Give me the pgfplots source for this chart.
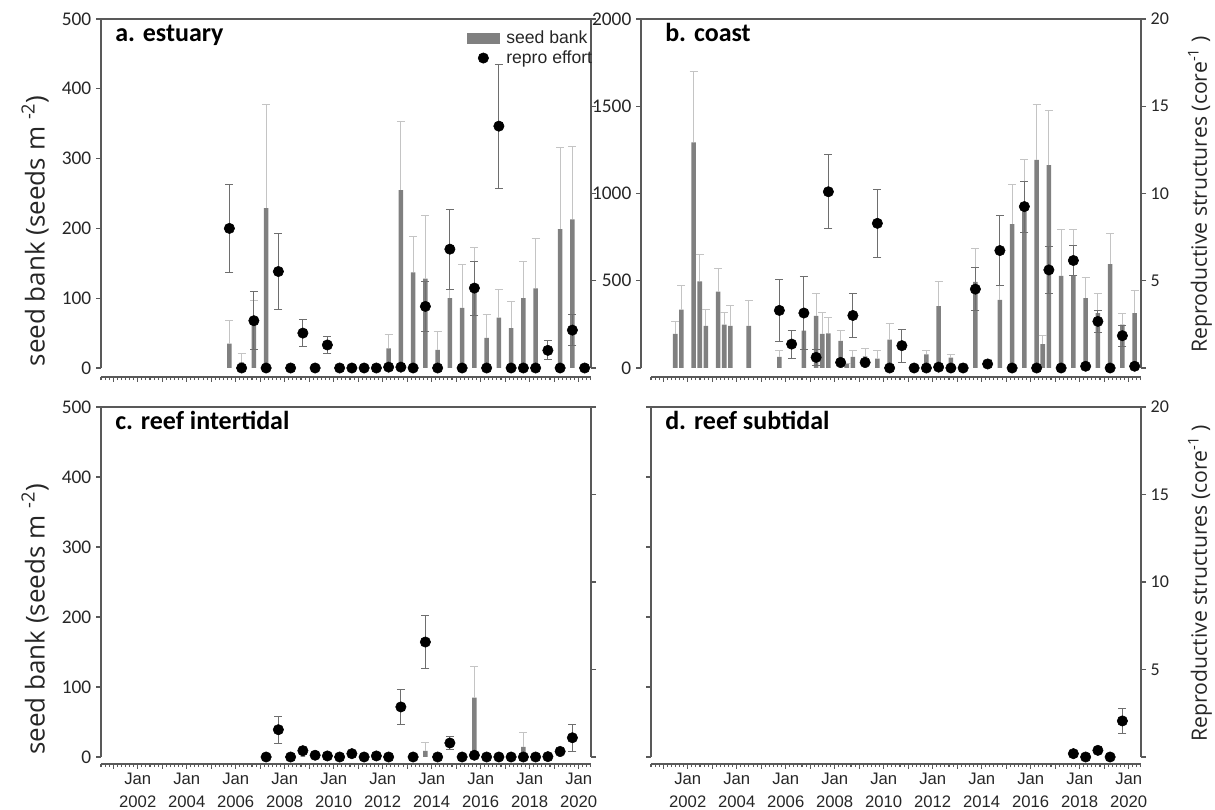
\documentclass[border=0pt]{standalone}
\usepackage{fontspec}
\usepackage{pgfplots}
\usepackage{pgfplotstable}
\pgfplotsset{compat=1.18}
\setmainfont{Liberation Sans}
\newfontfamily\carlito{Carlito}
\newfontfamily\osans{Open Sans}
\definecolor{axcol}{HTML}{595959}
\definecolor{barcol}{HTML}{808080}
\definecolor{barerr}{HTML}{C4C4C4}
\definecolor{doterr}{HTML}{6E6E6E}
\definecolor{txt}{HTML}{262626}

% ---------- panel a: estuary ----------
\pgfplotstableread{
x y e
2005.74 35 33
2006.24 8 13
2006.74 62 34
2007.24 229 148
2012.24 28 20
2012.74 255 98
2013.24 137 52
2013.74 128 90
2014.24 26 26
2014.74 100 13
2015.24 86 62
2015.74 110 62
2016.24 43 33
2016.74 72 41
2017.24 57 38
2017.74 100 53
2018.24 114 71
2019.24 199 117
2019.74 213 105
}\aBars
\pgfplotstableread{
x y e
2005.74 8.0 2.5
2006.24 0 0
2006.74 2.71 1.65
2007.24 0 0
2007.74 5.53 2.2
2008.24 0 0
2008.74 2.0 0.76
2009.24 0 0
2009.74 1.32 0.5
2010.24 0 0
2010.74 0 0
2011.24 0 0
2011.74 0 0
2012.24 0.05 0
2012.74 0.05 0
2013.24 0 0
2013.74 3.53 1.45
2014.24 0 0
2014.74 6.81 2.3
2015.24 0 0
2015.74 4.58 1.55
2016.24 0 0
2016.74 13.86 3.55
2017.24 0 0
2017.74 0 0
2018.24 0 0
2018.74 1.01 0.55
2019.24 0 0
2019.74 2.17 0.9
2020.24 0 0
}\aDots
% ---------- panel b: coast ----------
\pgfplotstableread{
x y e
2001.49 195 72
2001.74 334 137
2002.24 1293 408
2002.49 496 152
2002.74 242 92
2003.24 438 132
2003.49 248 72
2003.74 242 115
2004.49 242 145
2005.74 63 36
2006.74 214 310
2007.24 299 130
2007.49 195 125
2007.74 198 92
2008.24 156 59
2008.49 28 0
2008.74 63 36
2009.24 66 45
2009.74 53 46
2010.24 162 95
2011.74 78 24
2012.24 355 140
2012.74 60 20
2013.24 8 20
2013.74 493 191
2014.24 51 0
2014.74 391 80
2015.24 824 229
2015.74 905 287
2016.24 1192 320
2016.49 137 48
2016.74 1163 315
2017.24 528 267
2017.74 528 267
2018.24 400 118
2018.74 315 114
2019.24 595 177
2019.74 248 67
2020.24 315 129
}\bBars
\pgfplotstableread{
x y e
2005.74 3.30 1.76
2006.24 1.37 0.8
2006.74 3.15 2.1
2007.24 0.61 0.45
2007.74 10.1 2.12
2008.24 0.32 0.1
2008.74 3.01 1.25
2009.24 0.32 0.15
2009.74 8.29 1.96
2010.24 0 0
2010.74 1.28 0.95
2011.24 0 0
2011.74 0 0
2012.24 0.05 0
2012.74 0 0
2013.24 0 0
2013.74 4.52 1.24
2014.24 0.23 0
2014.74 6.73 2.03
2015.24 0 0
2015.74 9.25 1.46
2016.24 0 0
2016.74 5.62 1.37
2017.24 0 0
2017.74 6.16 0.85
2018.24 0.1 0
2018.74 2.67 0.65
2019.24 0 0
2019.74 1.85 0.6
2020.24 0.1 0
}\bDots
% ---------- panel c: reef intertidal ----------
\pgfplotstableread{
x y e
2008.74 3 12
2013.74 8.6 11.4
2015.74 84.8 45
2017.74 14.3 20
2019.24 2 8
}\cBars
\pgfplotstableread{
x y e
2007.24 0 0
2007.74 1.56 0.78
2008.24 0 0
2008.74 0.36 0.1
2009.24 0.1 0
2009.74 0.06 0
2010.24 0 0
2010.74 0.19 0
2011.24 0 0
2011.74 0.06 0
2012.24 0 0
2012.74 2.86 1.0
2013.24 0 0
2013.74 6.57 1.49
2014.24 0 0
2014.74 0.8 0.38
2015.24 0 0
2015.74 0.1 0
2016.24 0 0
2016.74 0 0
2017.24 0 0
2017.74 0 0
2018.24 0 0
2018.74 0.02 0
2019.24 0.32 0.1
2019.74 1.1 0.78
}\cDots
% ---------- panel d: reef subtidal ----------
\pgfplotstableread{
x y e
2017.74 0.19 0
2018.24 0 0
2018.74 0.38 0
2019.24 0 0
2019.74 2.06 0.7
}\dDots

\tikzset{ptitle/.style={anchor=base west, inner sep=0pt, xshift=10.5pt, yshift=-17.25pt,
    font=\carlito\bfseries\fontsize{19.5}{19.5}\selectfont, text=black}}
\pgfplotsset{
  base/.style={scale only axis, anchor=south west, xmin=2000.5, xmax=2020.5,
    /pgf/number format/assume math mode=true,
    /pgf/number format/set thousands separator={},
    axis line style={draw=axcol, line width=0.8pt},
    every tick/.style={draw=axcol, line width=0.8pt},
    tick align=outside, major tick length=3.75pt},
  seedax/.style={base, axis x line*=top, axis y line*=left, xtick=\empty, ymin=0,
    yticklabel style={font=\carlito\fontsize{14.5}{14.5}\selectfont, text=txt}},
  reproax/.style={base, axis x line=none, axis y line*=right, ymin=0, ymax=20,
    ytick={0,5,...,20}, clip=false,
    yticklabel style={font=\carlito\fontsize{13.5}{13.5}\selectfont, text=txt}},
  nolab/.style={yticklabels={{},{},{},{},{},{}}},
  xax/.style={base, axis y line=none, axis x line*=bottom, ymin=0, ymax=1, height=1pt,
    xtick={2001,...,2020}, minor xtick={2000.5,2000.66667,...,2020.6},
    major tick length=3.4pt, minor tick length=2.4pt,
    xticklabels={{},{},{},{},{},{},{},{},{},{},{},{},{},{},{},{},{},{},{},{}}},
  xlab/.style={xticklabels={,{Jan\\2002},,{Jan\\2004},,{Jan\\2006},,{Jan\\2008},,{Jan\\2010},,{Jan\\2012},,{Jan\\2014},,{Jan\\2016},,{Jan\\2018},,{Jan\\2020}},
    xticklabel style={align=center, text=txt, font=\fontsize{12.5}{17}\selectfont}},
  leftlab/.style={ylabel style={at={(axis description cs:-0.1347,0.393)}, anchor=center,
    font=\osans\fontsize{19.5}{19.5}\selectfont, text=txt}},
  rightlab/.style={ylabel style={at={(axis description cs:1.1204,0.497)}, anchor=center,
    font=\osans\fontsize{15.9}{15.9}\selectfont, text=txt}},
  barplot/.style={ybar, bar width=3.5pt, fill=barcol, draw=none, forget plot,
    error bars/.cd, y dir=plus, y explicit,
    error bar style={draw=barerr, line width=0.75pt},
    error mark options={rotate=90, draw=barerr, mark size=3pt, line width=0.75pt}},
  errplot/.style={draw=none, mark=none, forget plot,
    error bars/.cd, y dir=both, y explicit,
    error bar style={draw=doterr, line width=0.75pt},
    error mark options={rotate=90, draw=doterr, mark size=3pt, line width=0.75pt}},
  dotplot/.style={only marks, mark=*, mark size=3.9pt, draw=black, fill=black, forget plot}
}

\begin{document}
\begin{tikzpicture}
\useasboundingbox (0,0) rectangle (911.25pt,607.5pt);

% ================= panel a =================
\begin{axis}[seedax, at={(75.75pt,331.5pt)}, width=367.5pt, height=261.75pt,
  ymax=500, ytick={0,100,...,500}, leftlab, ylabel={seed bank (seeds m \textsuperscript{-2})}]
\addplot[barplot] table[x=x,y=y,y error=e]{\aBars};
\end{axis}
\begin{axis}[reproax, nolab, at={(75.75pt,331.5pt)}, width=367.5pt, height=261.75pt,
  legend style={at={(rel axis cs:1,1)}, anchor=north east, draw=none, fill=none,
    inner sep=0pt, row sep=0pt, column sep=3pt, yshift=-6.5pt, xshift=3pt,
    font=\fontsize{13.2}{13.2}\selectfont, text=txt},
  legend cell align=left]
\addlegendimage{legend image code/.code={\fill[barcol] (0pt,-3.75pt) rectangle (24pt,3.75pt);}}
\addlegendentry{seed bank}
\addlegendimage{legend image code/.code={\draw[black, fill=black, mark=*, mark size=3.9pt] plot coordinates {(12pt,0pt)};}}
\addlegendentry{repro effort}
\addplot[errplot] table[x=x,y=y,y error=e]{\aDots};
\addplot[dotplot] table[x=x,y=y]{\aDots};
\node[ptitle] at (rel axis cs:0,1) {a. estuary};
\end{axis}
\begin{axis}[xax, at={(75.75pt,324.75pt)}, width=367.5pt]
\end{axis}

% ================= panel b =================
\begin{axis}[seedax, at={(480.75pt,331.5pt)}, width=375pt, height=261.75pt,
  xmin=2000.0918, ymax=2000, ytick={0,500,...,2000}]
\addplot[barplot] table[x=x,y=y,y error=e]{\bBars};
\end{axis}
\begin{axis}[reproax, at={(488.25pt,331.5pt)}, width=367.5pt, height=261.75pt,
  yticklabels={,5,10,15,20}, rightlab, ylabel={Reproductive structures (core\textsuperscript{-1} )}]
\addplot[errplot] table[x=x,y=y,y error=e]{\bDots};
\addplot[dotplot] table[x=x,y=y]{\bDots};
\node[ptitle] at (rel axis cs:0,1) {b. coast};
\end{axis}
\begin{axis}[xax, at={(488.25pt,324.75pt)}, width=367.5pt]
\end{axis}

% ================= panel c =================
\begin{axis}[seedax, at={(75.75pt,39.75pt)}, width=367.5pt, height=262.5pt,
  ymax=500, ytick={0,100,...,500}, leftlab, ylabel={seed bank (seeds m \textsuperscript{-2})}]
\addplot[barplot] table[x=x,y=y,y error=e]{\cBars};
\end{axis}
\begin{axis}[reproax, nolab, at={(75.75pt,39.75pt)}, width=367.5pt, height=262.5pt]
\addplot[errplot] table[x=x,y=y,y error=e]{\cDots};
\addplot[dotplot] table[x=x,y=y]{\cDots};
\node[ptitle] at (rel axis cs:0,1) {c. reef intertidal};
\end{axis}
\begin{axis}[xax, xlab, at={(75.75pt,34.5pt)}, width=367.5pt]
\end{axis}

% ================= panel d =================
\begin{axis}[seedax, nolab, at={(488.25pt,39.75pt)}, width=367.5pt, height=262.5pt,
  ymax=500, ytick={0,100,...,500}]
\end{axis}
\begin{axis}[reproax, at={(488.25pt,39.75pt)}, width=367.5pt, height=262.5pt,
  yticklabels={,5,10,15,20}, rightlab, ylabel={Reproductive structures (core\textsuperscript{-1} )}]
\addplot[errplot] table[x=x,y=y,y error=e]{\dDots};
\addplot[dotplot] table[x=x,y=y]{\dDots};
\node[ptitle] at (rel axis cs:0,1) {d. reef subtidal};
\end{axis}
\begin{axis}[xax, xlab, at={(488.25pt,34.5pt)}, width=367.5pt]
\end{axis}
\end{tikzpicture}
\end{document}
